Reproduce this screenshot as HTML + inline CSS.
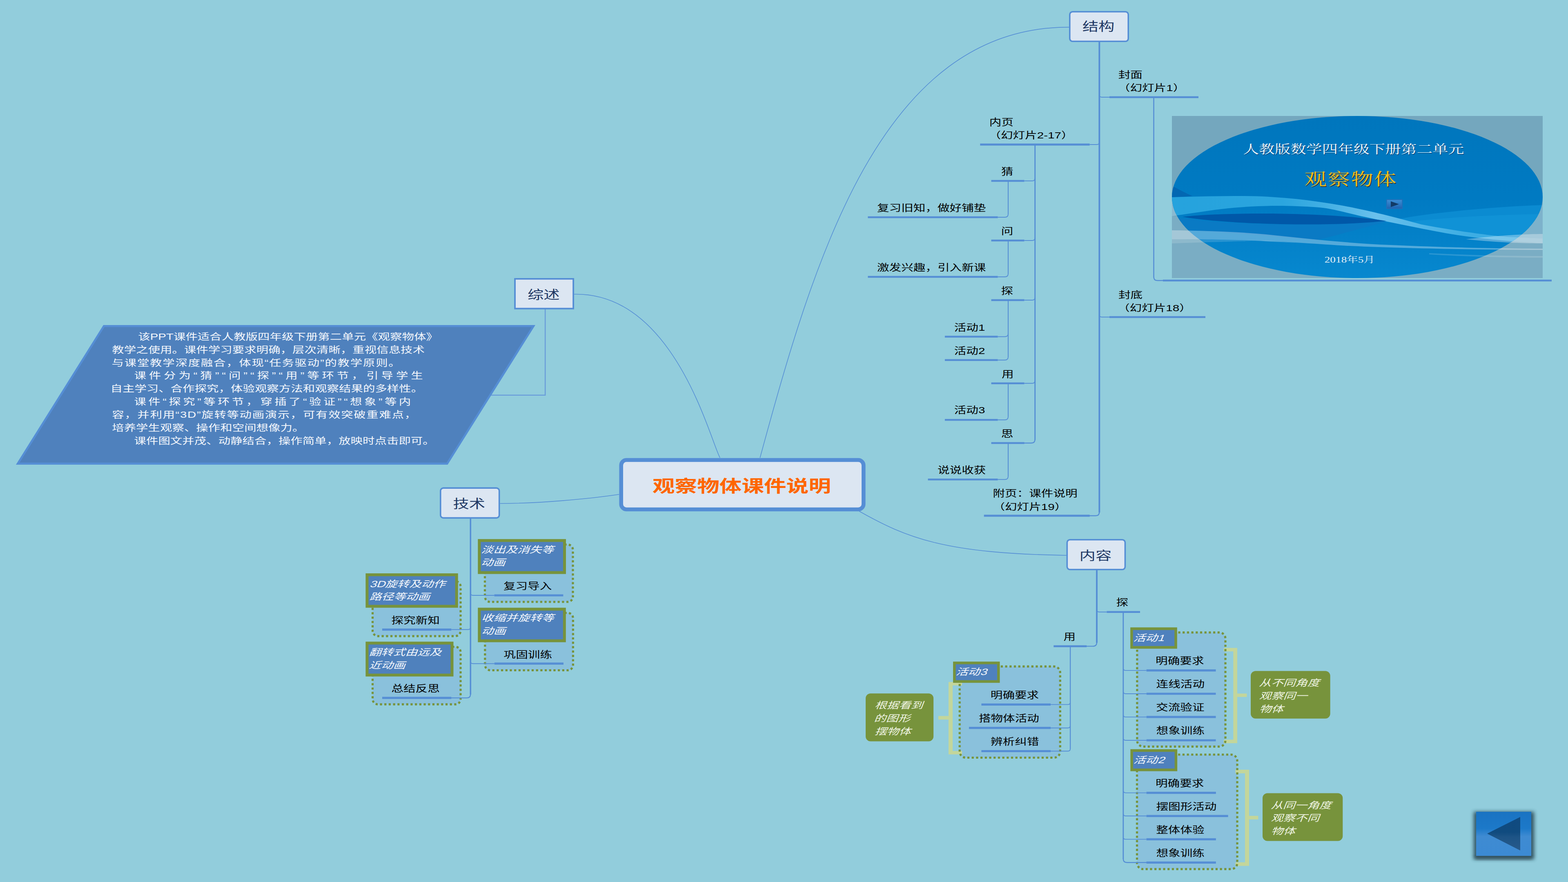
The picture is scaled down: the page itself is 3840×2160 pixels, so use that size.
<!DOCTYPE html>
<html lang="zh"><head><meta charset="utf-8"><title>观察物体课件说明</title>
<style>
html,body{margin:0;padding:0;background:#92CDDC}
body{width:3840px;height:2160px;overflow:hidden;position:relative;font-family:"Liberation Sans","Noto Sans CJK SC",sans-serif}
svg{position:absolute;left:0;top:0;display:block}
.t{position:absolute;margin:0;color:transparent;white-space:nowrap;line-height:1;transform:scaleX(1.3333);transform-origin:0 0;pointer-events:none}
svg text{font-family:"Liberation Sans","Noto Sans CJK SC",sans-serif}
svg text.s{font-family:"Liberation Serif","Noto Serif CJK SC",serif}
</style></head><body>
<svg width="3840" height="2160" viewBox="0 0 3840 2160">
<defs>
<linearGradient id="btn" x1="0" y1="0" x2="0" y2="1"><stop offset="0" stop-color="#1A73C2"/><stop offset="0.38" stop-color="#1C79C9"/><stop offset="0.56" stop-color="#3F8BD2"/><stop offset="1" stop-color="#3C8AD3"/></linearGradient>
<linearGradient id="tri" x1="0" y1="0" x2="0" y2="1"><stop offset="0" stop-color="#0F4A80"/><stop offset="0.45" stop-color="#104B7F"/><stop offset="0.6" stop-color="#1D5486"/><stop offset="1" stop-color="#27598B"/></linearGradient>
<filter id="sh" x="-30%" y="-30%" width="160%" height="170%"><feGaussianBlur stdDeviation="5"/></filter>
<linearGradient id="ell" x1="0" y1="0" x2="0" y2="1"><stop offset="0" stop-color="#0076BD"/><stop offset="0.5" stop-color="#007AC2"/><stop offset="1" stop-color="#0788CF"/></linearGradient>
<clipPath id="slc"><rect x="2870" y="284" width="908" height="397"/></clipPath>
<clipPath id="elc"><ellipse cx="3324" cy="482.5" rx="454" ry="198.5"/></clipPath>
<linearGradient id="bh" gradientUnits="userSpaceOnUse" x1="2870" y1="0" x2="3778" y2="0"><stop offset="0" stop-color="#5FBDEC" stop-opacity="0.05"/><stop offset="0.3" stop-color="#5FBDEC" stop-opacity="0.15"/><stop offset="0.55" stop-color="#7CC8F0" stop-opacity="0.8"/><stop offset="0.8" stop-color="#5FBDEC" stop-opacity="0.45"/><stop offset="1" stop-color="#5FBDEC" stop-opacity="0.3"/></linearGradient>
<linearGradient id="pb" x1="0" y1="0" x2="0" y2="1"><stop offset="0" stop-color="#3C8FD6"/><stop offset="1" stop-color="#1E63B0"/></linearGradient>
</defs>
<rect width="3840" height="2160" fill="#92CDDC"/>
<path d="M1861.3 1121 C1991.4 642.7 2156.6 64 2619 66.6" fill="none" stroke="#558ED5" stroke-width="1.6" />
<path d="M1763.2 1121 C1738.9 1077.5 1651.6 715.3 1406 720.5" fill="none" stroke="#558ED5" stroke-width="1.6" />
<path d="M2103.9 1251.7 C2221.9 1318.5 2316 1355.7 2612 1360" fill="none" stroke="#558ED5" stroke-width="1.6" />
<path d="M1516 1210.7 C1440 1222 1320 1233 1224.5 1233" fill="none" stroke="#558ED5" stroke-width="1.6" />
<path d="M1335.2 757 V967.8 H1200" fill="none" stroke="#6A9DDA" stroke-width="2.6" />
<path d="M254.5 798.5 H1306.5 L1095 1135.5 H43.5 Z" fill="#4F81BD" stroke="#558ED5" stroke-width="5" stroke-linejoin="miter"/>
<rect x="1187.5" y="1333.5" width="215.5" height="140.5" rx="13" fill="#8AC1DC"/>
<rect x="912.5" y="1423.5" width="215.5" height="134.3" rx="13" fill="#8AC1DC"/>
<rect x="1187.8" y="1501.0" width="215.6" height="140.5" rx="13" fill="#8AC1DC"/>
<rect x="912.5" y="1584.0" width="215.5" height="140.9" rx="13" fill="#8AC1DC"/>
<rect x="2784.8" y="1548.8" width="216.2" height="279.6" rx="15" fill="#8AC1DC"/>
<rect x="2784.5" y="1848.0" width="245.5" height="280.4" rx="15" fill="#8AC1DC"/>
<rect x="2350.2" y="1632.2" width="246.1" height="223.3" rx="15" fill="#8AC1DC"/>
<path d="M2996.8 1586.7 H3030.0 V1698.5 H3053.4 V1706.8 H3030.0 V1820.0 H2996.8 V1811.5 H3020.3 V1595.2 H2996.8 Z" fill="#C3D69B"/>
<rect x="3063.0" y="1643.3" width="194.7" height="116.5" rx="12" fill="#77933C"/>
<path d="M3025.5 1885.0 H3059.0 V1998.0 H3081.4 V2006.7 H3059.0 V2120.5 H3025.5 V2111.7 H3049.0 V1893.8 H3025.5 Z" fill="#C3D69B"/>
<rect x="3092.0" y="1942.4" width="196.3" height="117.2" rx="12" fill="#77933C"/>
<path d="M2356.0 1670.2 H2323.0 V1753.5 H2298.0 V1762.3 H2323.0 V1847.5 H2356.0 V1839.3 H2333.0 V1678.4 H2356.0 Z" fill="#C3D69B"/>
<rect x="2120.0" y="1698.2" width="166.1" height="117.3" rx="12" fill="#77933C"/>
<rect x="1187.5" y="1333.5" width="215.5" height="140.5" rx="13" fill="none" stroke="#77933C" stroke-width="5.2" stroke-dasharray="5.2 5.5"/>
<rect x="912.5" y="1423.5" width="215.5" height="134.3" rx="13" fill="none" stroke="#77933C" stroke-width="5.2" stroke-dasharray="5.2 5.5"/>
<rect x="1187.8" y="1501.0" width="215.6" height="140.5" rx="13" fill="none" stroke="#77933C" stroke-width="5.2" stroke-dasharray="5.2 5.5"/>
<rect x="912.5" y="1584.0" width="215.5" height="140.9" rx="13" fill="none" stroke="#77933C" stroke-width="5.2" stroke-dasharray="5.2 5.5"/>
<rect x="2784.8" y="1548.8" width="216.2" height="279.6" rx="15" fill="none" stroke="#77933C" stroke-width="5.2" stroke-dasharray="5.2 5.5"/>
<rect x="2784.5" y="1848.0" width="245.5" height="280.4" rx="15" fill="none" stroke="#77933C" stroke-width="5.2" stroke-dasharray="5.2 5.5"/>
<rect x="2350.2" y="1632.2" width="246.1" height="223.3" rx="15" fill="none" stroke="#77933C" stroke-width="5.2" stroke-dasharray="5.2 5.5"/>
<line x1="2692.3" y1="100.0" x2="2692.3" y2="1255.0" stroke="#558ED5" stroke-width="3.9"/>
<path d="M2692.3 1254 Q2692.3 1263 2683.3 1263 H2668" fill="none" stroke="#558ED5" stroke-width="2.4" />
<line x1="2717.0" y1="238.0" x2="2935.0" y2="238.0" stroke="#558ED5" stroke-width="4.6"/>
<path d="M2717.0 238.0 H2698.3 Q2692.3 238.0 2692.3 232.0" fill="none" stroke="#558ED5" stroke-width="1.9" />
<line x1="2717.0" y1="776.5" x2="2952.0" y2="776.5" stroke="#558ED5" stroke-width="4.6"/>
<path d="M2717.0 776.5 H2698.3 Q2692.3 776.5 2692.3 770.5" fill="none" stroke="#558ED5" stroke-width="1.9" />
<line x1="2825.5" y1="240.0" x2="2825.5" y2="679.0" stroke="#558ED5" stroke-width="2.6"/>
<path d="M2825.5 678 Q2825.5 687 2834 687 H2848" fill="none" stroke="#558ED5" stroke-width="2.4" />
<line x1="2848.0" y1="687.0" x2="3800.0" y2="687.0" stroke="#558ED5" stroke-width="4.6"/>
<line x1="2400.3" y1="354.0" x2="2668.6" y2="354.0" stroke="#558ED5" stroke-width="4.8"/>
<path d="M2668.6 354.0 H2686.3 Q2692.3 354.0 2692.3 348.0" fill="none" stroke="#558ED5" stroke-width="1.9" />
<line x1="2409.7" y1="1263.0" x2="2668.6" y2="1263.0" stroke="#558ED5" stroke-width="4.8"/>
<line x1="2534.7" y1="354.0" x2="2534.7" y2="1077.0" stroke="#558ED5" stroke-width="2.9"/>
<path d="M2534.7 1076 Q2534.7 1085 2525.7 1085 H2508" fill="none" stroke="#558ED5" stroke-width="2.4" />
<line x1="2427.6" y1="443.0" x2="2508.5" y2="443.0" stroke="#558ED5" stroke-width="4.6"/>
<path d="M2508.5 443.0 H2527.7 Q2534.7 443.0 2534.7 436.0" fill="none" stroke="#558ED5" stroke-width="1.9" />
<line x1="2469.0" y1="443.0" x2="2469.0" y2="524.5" stroke="#558ED5" stroke-width="2.1"/>
<path d="M2443.6 532.0 H2461.0 Q2469.0 532.0 2469.0 524.0" fill="none" stroke="#558ED5" stroke-width="1.9" />
<line x1="2427.6" y1="589.0" x2="2508.5" y2="589.0" stroke="#558ED5" stroke-width="4.6"/>
<path d="M2508.5 589.0 H2527.7 Q2534.7 589.0 2534.7 582.0" fill="none" stroke="#558ED5" stroke-width="1.9" />
<line x1="2469.0" y1="589.0" x2="2469.0" y2="670.5" stroke="#558ED5" stroke-width="2.1"/>
<path d="M2443.6 678.0 H2461.0 Q2469.0 678.0 2469.0 670.0" fill="none" stroke="#558ED5" stroke-width="1.9" />
<line x1="2427.6" y1="735.0" x2="2508.5" y2="735.0" stroke="#558ED5" stroke-width="4.6"/>
<path d="M2508.5 735.0 H2527.7 Q2534.7 735.0 2534.7 728.0" fill="none" stroke="#558ED5" stroke-width="1.9" />
<line x1="2469.0" y1="735.0" x2="2469.0" y2="874.2" stroke="#558ED5" stroke-width="2.1"/>
<path d="M2443.6 824.5 H2461.0 Q2469.0 824.5 2469.0 816.5" fill="none" stroke="#558ED5" stroke-width="1.9" />
<path d="M2443.6 881.7 H2461.0 Q2469.0 881.7 2469.0 873.7" fill="none" stroke="#558ED5" stroke-width="1.9" />
<line x1="2427.6" y1="938.8" x2="2508.5" y2="938.8" stroke="#558ED5" stroke-width="4.6"/>
<path d="M2508.5 938.8 H2527.7 Q2534.7 938.8 2534.7 931.8" fill="none" stroke="#558ED5" stroke-width="1.9" />
<line x1="2469.0" y1="938.8" x2="2469.0" y2="1020.7" stroke="#558ED5" stroke-width="2.1"/>
<path d="M2443.6 1028.2 H2461.0 Q2469.0 1028.2 2469.0 1020.2" fill="none" stroke="#558ED5" stroke-width="1.9" />
<line x1="2427.6" y1="1085.0" x2="2508.5" y2="1085.0" stroke="#558ED5" stroke-width="4.6"/>
<line x1="2469.0" y1="1085.0" x2="2469.0" y2="1166.7" stroke="#558ED5" stroke-width="2.1"/>
<path d="M2443.6 1174.2 H2461.0 Q2469.0 1174.2 2469.0 1166.2" fill="none" stroke="#558ED5" stroke-width="1.9" />
<line x1="2125.4" y1="532.0" x2="2443.6" y2="532.0" stroke="#558ED5" stroke-width="4.6"/>
<line x1="2125.4" y1="678.0" x2="2443.6" y2="678.0" stroke="#558ED5" stroke-width="4.6"/>
<line x1="2313.9" y1="824.5" x2="2443.6" y2="824.5" stroke="#558ED5" stroke-width="4.6"/>
<line x1="2313.9" y1="881.7" x2="2443.6" y2="881.7" stroke="#558ED5" stroke-width="4.6"/>
<line x1="2313.9" y1="1028.2" x2="2443.6" y2="1028.2" stroke="#558ED5" stroke-width="4.6"/>
<line x1="2272.5" y1="1174.2" x2="2443.6" y2="1174.2" stroke="#558ED5" stroke-width="4.6"/>
<line x1="1152.3" y1="1268.0" x2="1152.3" y2="1701.0" stroke="#558ED5" stroke-width="3.5"/>
<path d="M1152.3 1700 Q1152.3 1709.1 1143.3 1709.1 H1105" fill="none" stroke="#558ED5" stroke-width="2.4" />
<line x1="1210.6" y1="1458.0" x2="1379.4" y2="1458.0" stroke="#558ED5" stroke-width="5.2"/>
<path d="M1210.6 1458.0 H1158.3 Q1152.3 1458.0 1152.3 1452.0" fill="none" stroke="#558ED5" stroke-width="1.9" />
<line x1="1210.9" y1="1625.2" x2="1380.0" y2="1625.2" stroke="#558ED5" stroke-width="5.2"/>
<path d="M1210.9 1625.2 H1158.3 Q1152.3 1625.2 1152.3 1619.2" fill="none" stroke="#558ED5" stroke-width="1.9" />
<line x1="936.0" y1="1541.8" x2="1105.2" y2="1541.8" stroke="#558ED5" stroke-width="5.2"/>
<path d="M1105.2 1541.8 H1146.3 Q1152.3 1541.8 1152.3 1535.8" fill="none" stroke="#558ED5" stroke-width="1.9" />
<line x1="936.0" y1="1709.1" x2="1105.2" y2="1709.1" stroke="#558ED5" stroke-width="5.2"/>
<line x1="2686.0" y1="1394.0" x2="2686.0" y2="1574.0" stroke="#558ED5" stroke-width="3.9"/>
<path d="M2686.0 1573 Q2686.0 1582.6 2677.0 1582.6 H2661" fill="none" stroke="#558ED5" stroke-width="2.4" />
<line x1="2710.4" y1="1498.8" x2="2792.0" y2="1498.8" stroke="#558ED5" stroke-width="4.6"/>
<path d="M2710.4 1498.8 H2692.0 Q2686.0 1498.8 2686.0 1492.8" fill="none" stroke="#558ED5" stroke-width="1.9" />
<line x1="2580.3" y1="1582.6" x2="2661.1" y2="1582.6" stroke="#558ED5" stroke-width="4.6"/>
<line x1="2750.8" y1="1499.0" x2="2750.8" y2="2104.0" stroke="#558ED5" stroke-width="2.8"/>
<path d="M2750.8 2103 Q2750.8 2112.3 2759.8 2112.3 H2808" fill="none" stroke="#558ED5" stroke-width="2.4" />
<line x1="2807.7" y1="1641.9" x2="2977.5" y2="1641.9" stroke="#558ED5" stroke-width="5.2"/>
<path d="M2807.7 1641.9 H2756.8 Q2750.8 1641.9 2750.8 1635.9" fill="none" stroke="#558ED5" stroke-width="1.9" />
<line x1="2807.7" y1="1699.0" x2="2977.5" y2="1699.0" stroke="#558ED5" stroke-width="5.2"/>
<path d="M2807.7 1699.0 H2756.8 Q2750.8 1699.0 2750.8 1693.0" fill="none" stroke="#558ED5" stroke-width="1.9" />
<line x1="2807.7" y1="1755.9" x2="2977.5" y2="1755.9" stroke="#558ED5" stroke-width="5.2"/>
<path d="M2807.7 1755.9 H2756.8 Q2750.8 1755.9 2750.8 1749.9" fill="none" stroke="#558ED5" stroke-width="1.9" />
<line x1="2807.7" y1="1813.0" x2="2977.5" y2="1813.0" stroke="#558ED5" stroke-width="5.2"/>
<path d="M2807.7 1813.0 H2756.8 Q2750.8 1813.0 2750.8 1807.0" fill="none" stroke="#558ED5" stroke-width="1.9" />
<line x1="2807.6" y1="1941.6" x2="2977.8" y2="1941.6" stroke="#558ED5" stroke-width="5.2"/>
<path d="M2807.6 1941.6 H2756.8 Q2750.8 1941.6 2750.8 1935.6" fill="none" stroke="#558ED5" stroke-width="1.9" />
<line x1="2807.6" y1="1998.3" x2="3007.6" y2="1998.3" stroke="#558ED5" stroke-width="5.2"/>
<path d="M2807.6 1998.3 H2756.8 Q2750.8 1998.3 2750.8 1992.3" fill="none" stroke="#558ED5" stroke-width="1.9" />
<line x1="2807.6" y1="2055.4" x2="2977.8" y2="2055.4" stroke="#558ED5" stroke-width="5.2"/>
<path d="M2807.6 2055.4 H2756.8 Q2750.8 2055.4 2750.8 2049.4" fill="none" stroke="#558ED5" stroke-width="1.9" />
<line x1="2807.6" y1="2112.3" x2="2977.8" y2="2112.3" stroke="#558ED5" stroke-width="5.2"/>
<line x1="2621.1" y1="1583.0" x2="2621.1" y2="1834.0" stroke="#558ED5" stroke-width="2.3"/>
<line x1="2403.4" y1="1725.4" x2="2573.0" y2="1725.4" stroke="#558ED5" stroke-width="5.2"/>
<path d="M2573.0 1725.4 H2615.1 Q2621.1 1725.4 2621.1 1719.4" fill="none" stroke="#558ED5" stroke-width="1.9" />
<line x1="2373.0" y1="1782.7" x2="2573.0" y2="1782.7" stroke="#558ED5" stroke-width="5.2"/>
<path d="M2573.0 1782.7 H2615.1 Q2621.1 1782.7 2621.1 1776.7" fill="none" stroke="#558ED5" stroke-width="1.9" />
<line x1="2403.4" y1="1839.5" x2="2573.0" y2="1839.5" stroke="#558ED5" stroke-width="5.2"/>
<path d="M2573.0 1839.5 H2615.1 Q2621.1 1839.5 2621.1 1833.5" fill="none" stroke="#558ED5" stroke-width="1.9" />
<rect x="1521.2" y="1126.5" width="593.6" height="121" rx="13" fill="#DCE6F2" stroke="#558ED5" stroke-width="9.6"/>
<rect x="2619.8" y="28.8" width="143.4" height="72.4" rx="7.0" fill="#DCE6F2" stroke="#558ED5" stroke-width="3.6"/>
<rect x="1261.1" y="682.9" width="143.0" height="72.8" rx="0.0" fill="#DCE6F2" stroke="#558ED5" stroke-width="3.8"/>
<rect x="1078.8" y="1195.1" width="143.9" height="73.3" rx="7.0" fill="#DCE6F2" stroke="#558ED5" stroke-width="3.6"/>
<rect x="2613.3" y="1321.8" width="142.1" height="72.9" rx="7.0" fill="#DCE6F2" stroke="#558ED5" stroke-width="3.6"/>
<rect x="1173.8" y="1323.7" width="208.7" height="78.5" fill="#4F81BD" stroke="#77933C" stroke-width="7.0"/>
<rect x="898.9" y="1407.6" width="219.3" height="77.2" fill="#4F81BD" stroke="#77933C" stroke-width="7.0"/>
<rect x="1173.8" y="1491.8" width="208.5" height="77.5" fill="#4F81BD" stroke="#77933C" stroke-width="7.0"/>
<rect x="898.9" y="1574.9" width="208.1" height="78.3" fill="#4F81BD" stroke="#77933C" stroke-width="7.0"/>
<rect x="2771.4" y="1539.7" width="108.1" height="45.7" fill="#4F81BD" stroke="#77933C" stroke-width="6.5"/>
<rect x="2771.6" y="1838.0" width="108.3" height="47.4" fill="#4F81BD" stroke="#77933C" stroke-width="6.5"/>
<rect x="2337.3" y="1623.5" width="108.0" height="45.5" fill="#4F81BD" stroke="#77933C" stroke-width="6.5"/>
<g clip-path="url(#slc)"><rect x="2870" y="284" width="908" height="397" fill="#74A7BE"/><rect x="2870" y="530" width="908" height="151" fill="#7AADC4"/><path d="M2870 483 C2930 481 2990 480 3042 480 C3120 480 3200 489 3261 499 C3325 509 3415 531 3480 549.5 C3550 563 3640 576 3699 580.5 L3780 584 V596 L3736 593 C3680 590 3600 581 3553 573 C3490 562 3390 541 3334 529.4 C3295 521 3262 510 3225 507.5 C3190 505 3150 503.5 3115 504 C3060 505 3005 509.5 2969.5 514.8 C2930 520.5 2900 525 2870 529.4 Z" fill="#8ABAD0"/><path d="M3560 520 C3640 510 3710 505 3778 502 V584 C3700 580 3640 575 3590 567 Z" fill="#7DB2CB"/><g clip-path="url(#elc)"><rect x="2870" y="284" width="908" height="397" fill="url(#ell)"/><path d="M2870 455 C2890 465 2905 474 2920 480 L2870 484 Z" fill="#0367B2"/><path d="M3389 544 C3440 532 3500 524 3553 518.5 C3620 511 3700 505 3780 502 V586 C3700 581 3640 575 3590 567.7 C3520 558 3440 545 3389 544 Z" fill="#0B8BD1"/><path d="M3430 546 C3500 536 3600 528 3780 524 V586 C3700 581 3640 575 3590 567.7 C3520 558 3470 548 3430 546 Z" fill="#1193D7" opacity="0.8"/><path d="M2870 531 C3000 552 3250 556 3407 540 C3330 560 3260 580 3225 588 C3100 576 2980 566 2870 564 Z" fill="#0A7AC4"/><path d="M2870 483 C2930 481 2990 480 3042 480 C3120 480 3200 489 3261 499 C3325 509 3415 531 3480 549.5 C3550 563 3640 576 3699 580.5 L3780 584 V596 L3736 593 C3680 590 3600 581 3553 573 C3490 562 3390 541 3334 529.4 C3295 521 3262 510 3225 507.5 C3190 505 3150 503.5 3115 504 C3060 505 3005 509.5 2969.5 514.8 C2930 520.5 2900 525 2870 529.4 Z" fill="#22A1DC"/><path d="M2870 483 C2930 481 2990 480 3042 480 C3120 480 3200 489 3261 499 C3325 509 3415 531 3480 549.5 C3550 563 3640 576 3699 580.5 L3780 584 V596 L3736 593 C3680 590 3600 581 3553 573 C3490 562 3390 541 3334 529.4 C3295 521 3262 510 3225 507.5 C3190 505 3150 503.5 3115 504 C3060 505 3005 509.5 2969.5 514.8 C2930 520.5 2900 525 2870 529.4 Z" fill="url(#bh)"/><path d="M2896 531 C2960 523 3100 521 3188 524.7 C3270 527 3340 533 3395 541 C3340 547 3260 550 3188 549.5 C3100 549 2980 545 2896 531 Z" fill="#0058A8"/></g><path d="M2870 564 C2950 565 3040 568 3100 574 C3200 584 3300 596 3407 600 C3500 604 3600 608 3778 609 V612 C3600 612 3400 607 3300 602 C3200 596 3100 586 2870 586 Z" fill="#FFFFFF" opacity="0.32"/><path d="M2870 586 C3000 586 3100 590 3200 597 L3100 589 C3000 592 2930 594 2870 596 Z" fill="#FFFFFF" opacity="0.15"/><path d="M3590 586 C3670 576 3740 573 3778 573 V596 C3740 596 3680 595 3590 586 Z" fill="#FFFFFF" opacity="0.32"/><path d="M3500 620 C3600 625 3700 627 3778 627 V631 C3700 631 3600 629 3500 623 Z" fill="#FFFFFF" opacity="0.15"/></g>
<rect x="3396" y="489" width="38" height="22" fill="url(#pb)" stroke="#2A6CB5" stroke-width="1.5"/><path d="M3406 493 L3426 500 L3406 507 Z" fill="#123A66"/>
<rect x="3609" y="1988" width="148" height="116" fill="#22404E" opacity="0.85" filter="url(#sh)"/>
<rect x="3612" y="2096" width="140" height="8" fill="#2A4450" opacity="0.6" filter="url(#sh)"/>
<rect x="3615" y="1988" width="135" height="108" fill="url(#btn)"/>
<path d="M3642 2041.4 L3723 2000.7 V2082.7 Z" fill="url(#tri)"/>
<text transform="translate(1597.9,1204.8) scale(1.3333,1)" font-size="41" font-weight="bold" fill="#FF6600">观察物体课件说明</text>
<text transform="translate(2650.8,75.4) scale(1.3333,1)" font-size="29.5" fill="#1F3864">结构</text>
<text transform="translate(1291.9,731.6) scale(1.3333,1)" font-size="29.5" fill="#1F3864">综述</text>
<text transform="translate(1109.5,1243.9) scale(1.3333,1)" font-size="29.5" fill="#1F3864">技术</text>
<text transform="translate(2643.6,1371.4) scale(1.3333,1)" font-size="29.5" fill="#1F3864">内容</text>
<text transform="translate(338.2,831.8) scale(1.3333,1)" font-size="22.1" fill="#F4F7FC">该PPT课件适合人教版四年级下册第二单元《观察物体》</text>
<text transform="translate(274.3,863.6) scale(1.3333,1)" font-size="22.1" fill="#F4F7FC">教学之使用。课件学习要求明确，层次清晰，重视信息技术</text>
<text transform="translate(273.6,895.5) scale(1.3333,1)" font-size="22.1" fill="#F4F7FC" textLength="530.4" lengthAdjust="spacing">与课堂教学深度融合，体现“任务驱动”的教学原则。</text>
<text transform="translate(328.5,927.3) scale(1.3333,1)" font-size="22.1" fill="#F4F7FC" textLength="530.4" lengthAdjust="spacing">课件分为“猜”“问”“探”“用”等环节，引导学生</text>
<text transform="translate(270.5,959.2) scale(1.3333,1)" font-size="22.1" fill="#F4F7FC">自主学习、合作探究，体验观察方法和观察结果的多样性。</text>
<text transform="translate(328.5,991.0) scale(1.3333,1)" font-size="22.1" fill="#F4F7FC" textLength="508.3" lengthAdjust="spacing">课件“探究”等环节，穿插了“验证”“想象”等内</text>
<text transform="translate(274.2,1022.9) scale(1.3333,1)" font-size="22.1" fill="#F4F7FC" textLength="559.4" lengthAdjust="spacing">容，并利用“3D”旋转等动画演示，可有效突破重难点，</text>
<text transform="translate(274.2,1054.7) scale(1.3333,1)" font-size="22.1" fill="#F4F7FC">培养学生观察、操作和空间想像力。</text>
<text transform="translate(328.5,1086.6) scale(1.3333,1)" font-size="22.1" fill="#F4F7FC">课件图文并茂、动静结合，操作简单，放映时点击即可。</text>
<text transform="translate(2738.7,190.5) scale(1.3333,1)" font-size="22.2" fill="#000">封面</text>
<text transform="translate(2737.8,223.0) scale(1.3333,1)" font-size="22.2" fill="#000">（幻灯片1）</text>
<text transform="translate(2422.8,306.5) scale(1.3333,1)" font-size="22.2" fill="#000">内页</text>
<text transform="translate(2421.4,339.3) scale(1.3333,1)" font-size="22.2" fill="#000">（幻灯片2-17）</text>
<text transform="translate(2451.9,427.5) scale(1.3333,1)" font-size="22.2" fill="#000">猜</text>
<text transform="translate(2148.0,517.0) scale(1.3333,1)" font-size="22.2" fill="#000">复习旧知，做好铺垫</text>
<text transform="translate(2451.7,574.0) scale(1.3333,1)" font-size="22.2" fill="#000">问</text>
<text transform="translate(2148.0,663.4) scale(1.3333,1)" font-size="22.2" fill="#000">激发兴趣，引入新课</text>
<text transform="translate(2451.6,719.8) scale(1.3333,1)" font-size="22.2" fill="#000">探</text>
<text transform="translate(2336.7,809.6) scale(1.3333,1)" font-size="22.2" fill="#000">活动1</text>
<text transform="translate(2336.7,866.6) scale(1.3333,1)" font-size="22.2" fill="#000">活动2</text>
<text transform="translate(2452.9,923.8) scale(1.3333,1)" font-size="22.2" fill="#000">用</text>
<text transform="translate(2336.7,1012.3) scale(1.3333,1)" font-size="22.2" fill="#000">活动3</text>
<text transform="translate(2451.7,1069.7) scale(1.3333,1)" font-size="22.2" fill="#000">思</text>
<text transform="translate(2296.0,1159.1) scale(1.3333,1)" font-size="22.2" fill="#000">说说收获</text>
<text transform="translate(2431.5,1216.0) scale(1.3333,1)" font-size="22.2" fill="#000">附页：课件说明</text>
<text transform="translate(2431.4,1248.5) scale(1.3333,1)" font-size="22.2" fill="#000">（幻灯片19）</text>
<text transform="translate(2738.9,729.8) scale(1.3333,1)" font-size="22.2" fill="#000">封底</text>
<text transform="translate(2737.0,762.0) scale(1.3333,1)" font-size="22.2" fill="#000">（幻灯片18）</text>
<text class="s" transform="translate(3045.9,377.7) scale(1.3333,1)" font-size="29" fill="#0A4F86">人教版数学四年级下册第二单元</text>
<text class="s" transform="translate(3044.4,376.2) scale(1.3333,1)" font-size="29" fill="#F4F8FB">人教版数学四年级下册第二单元</text>
<text class="s" transform="translate(3196.3,454.7) scale(1.3333,1)" font-size="41" letter-spacing="1.64" fill="#2A3A3A">观察物体</text>
<text class="s" transform="translate(3194.5,452.9) scale(1.3333,1)" font-size="41" letter-spacing="1.64" fill="#F2BE1E">观察物体</text>
<text class="s" transform="translate(3243.7,642.7) scale(1.3333,1)" font-size="20.5" fill="#E8F1F7">2018年5月</text>
<text transform="translate(1232.9,1443.0) scale(1.3333,1)" font-size="22.2" fill="#000">复习导入</text>
<text transform="translate(958.5,1526.8) scale(1.3333,1)" font-size="22.2" fill="#000">探究新知</text>
<text transform="translate(1233.6,1610.7) scale(1.3333,1)" font-size="22.2" fill="#000">巩固训练</text>
<text transform="translate(958.4,1693.5) scale(1.3333,1)" font-size="22.2" fill="#000">总结反思</text>
<text transform="matrix(1.3333,0,-0.4,1,1178.1,1353.8)" font-size="22.2" fill="#F4F7FC">淡出及消失等</text>
<text transform="matrix(1.3333,0,-0.4,1,1177.6,1384.8)" font-size="22.2" fill="#F4F7FC">动画</text>
<text transform="matrix(1.3333,0,-0.4,1,904.7,1438.0)" font-size="22.2" fill="#F4F7FC">3D旋转及动作</text>
<text transform="matrix(1.3333,0,-0.4,1,904.5,1469.4)" font-size="22.2" fill="#F4F7FC">路径等动画</text>
<text transform="matrix(1.3333,0,-0.4,1,1178.6,1521.0)" font-size="22.2" fill="#F4F7FC">收缩并旋转等</text>
<text transform="matrix(1.3333,0,-0.4,1,1178.8,1552.8)" font-size="22.2" fill="#F4F7FC">动画</text>
<text transform="matrix(1.3333,0,-0.4,1,903.4,1605.3)" font-size="22.2" fill="#F4F7FC">翻转式由远及</text>
<text transform="matrix(1.3333,0,-0.4,1,903.3,1637.0)" font-size="22.2" fill="#F4F7FC">近动画</text>
<text transform="translate(2733.4,1483.3) scale(1.3333,1)" font-size="22.2" fill="#000">探</text>
<text transform="translate(2604.4,1567.3) scale(1.3333,1)" font-size="22.2" fill="#000">用</text>
<text transform="matrix(1.3333,0,-0.4,1,2775.2,1569.7)" font-size="22.2" fill="#F4F7FC">活动1</text>
<text transform="matrix(1.3333,0,-0.4,1,2775.5,1868.6)" font-size="22.2" fill="#F4F7FC">活动2</text>
<text transform="matrix(1.3333,0,-0.4,1,2340.5,1652.8)" font-size="22.2" fill="#F4F7FC">活动3</text>
<text transform="translate(2830.1,1625.8) scale(1.3333,1)" font-size="22.2" fill="#000">明确要求</text>
<text transform="translate(2831.6,1683.3) scale(1.3333,1)" font-size="22.2" fill="#000">连线活动</text>
<text transform="translate(2831.1,1740.3) scale(1.3333,1)" font-size="22.2" fill="#000">交流验证</text>
<text transform="translate(2831.6,1797.3) scale(1.3333,1)" font-size="22.2" fill="#000">想象训练</text>
<text transform="translate(2830.0,1925.8) scale(1.3333,1)" font-size="22.2" fill="#000">明确要求</text>
<text transform="translate(2831.5,1982.8) scale(1.3333,1)" font-size="22.2" fill="#000">摆图形活动</text>
<text transform="translate(2831.2,2039.8) scale(1.3333,1)" font-size="22.2" fill="#000">整体体验</text>
<text transform="translate(2831.5,2096.8) scale(1.3333,1)" font-size="22.2" fill="#000">想象训练</text>
<text transform="translate(2425.8,1710.2) scale(1.3333,1)" font-size="22.2" fill="#000">明确要求</text>
<text transform="translate(2396.9,1767.0) scale(1.3333,1)" font-size="22.2" fill="#000">搭物体活动</text>
<text transform="translate(2426.1,1824.0) scale(1.3333,1)" font-size="22.2" fill="#000">辨析纠错</text>
<text transform="matrix(1.3333,0,-0.4,1,3083.1,1680.0)" font-size="22.2" fill="#EEF3E2">从不同角度</text>
<text transform="matrix(1.3333,0,-0.4,1,3083.3,1712.3)" font-size="22.2" fill="#EEF3E2">观察同一</text>
<text transform="matrix(1.3333,0,-0.4,1,3083.4,1744.0)" font-size="22.2" fill="#EEF3E2">物体</text>
<text transform="matrix(1.3333,0,-0.4,1,3112.0,1979.8)" font-size="22.2" fill="#EEF3E2">从同一角度</text>
<text transform="matrix(1.3333,0,-0.4,1,3112.2,2011.3)" font-size="22.2" fill="#EEF3E2">观察不同</text>
<text transform="matrix(1.3333,0,-0.4,1,3112.3,2042.7)" font-size="22.2" fill="#EEF3E2">物体</text>
<text transform="matrix(1.3333,0,-0.4,1,2141.5,1735.0)" font-size="22.2" fill="#EEF3E2">根据看到</text>
<text transform="matrix(1.3333,0,-0.4,1,2140.0,1767.0)" font-size="22.2" fill="#EEF3E2">的图形</text>
<text transform="matrix(1.3333,0,-0.4,1,2141.7,1798.5)" font-size="22.2" fill="#EEF3E2">摆物体</text>
</svg>
<div class="t" style="left:1598px;top:1169px;font-size:41.0px;">观察物体课件说明</div>
<div class="t" style="left:2651px;top:49px;font-size:29.5px;">结构</div>
<div class="t" style="left:1292px;top:706px;font-size:29.5px;">综述</div>
<div class="t" style="left:1110px;top:1218px;font-size:29.5px;">技术</div>
<div class="t" style="left:2644px;top:1345px;font-size:29.5px;">内容</div>
<div class="t" style="left:338px;top:812px;font-size:22.1px;">该PPT课件适合人教版四年级下册第二单元《观察物体》</div>
<div class="t" style="left:274px;top:844px;font-size:22.1px;">教学之使用。课件学习要求明确，层次清晰，重视信息技术</div>
<div class="t" style="left:274px;top:876px;font-size:22.1px;">与课堂教学深度融合，体现“任务驱动”的教学原则。</div>
<div class="t" style="left:329px;top:908px;font-size:22.1px;">课件分为“猜”“问”“探”“用”等环节，引导学生</div>
<div class="t" style="left:270px;top:940px;font-size:22.1px;">自主学习、合作探究，体验观察方法和观察结果的多样性。</div>
<div class="t" style="left:329px;top:972px;font-size:22.1px;">课件“探究”等环节，穿插了“验证”“想象”等内</div>
<div class="t" style="left:274px;top:1003px;font-size:22.1px;">容，并利用“3D”旋转等动画演示，可有效突破重难点，</div>
<div class="t" style="left:274px;top:1035px;font-size:22.1px;">培养学生观察、操作和空间想像力。</div>
<div class="t" style="left:329px;top:1067px;font-size:22.1px;">课件图文并茂、动静结合，操作简单，放映时点击即可。</div>
<div class="t" style="left:2739px;top:171px;font-size:22.2px;">封面</div>
<div class="t" style="left:2738px;top:204px;font-size:22.2px;">（幻灯片1）</div>
<div class="t" style="left:2423px;top:287px;font-size:22.2px;">内页</div>
<div class="t" style="left:2421px;top:320px;font-size:22.2px;">（幻灯片2-17）</div>
<div class="t" style="left:2452px;top:408px;font-size:22.2px;">猜</div>
<div class="t" style="left:2148px;top:498px;font-size:22.2px;">复习旧知，做好铺垫</div>
<div class="t" style="left:2452px;top:555px;font-size:22.2px;">问</div>
<div class="t" style="left:2148px;top:644px;font-size:22.2px;">激发兴趣，引入新课</div>
<div class="t" style="left:2452px;top:700px;font-size:22.2px;">探</div>
<div class="t" style="left:2337px;top:790px;font-size:22.2px;">活动1</div>
<div class="t" style="left:2337px;top:847px;font-size:22.2px;">活动2</div>
<div class="t" style="left:2453px;top:904px;font-size:22.2px;">用</div>
<div class="t" style="left:2337px;top:993px;font-size:22.2px;">活动3</div>
<div class="t" style="left:2452px;top:1050px;font-size:22.2px;">思</div>
<div class="t" style="left:2296px;top:1140px;font-size:22.2px;">说说收获</div>
<div class="t" style="left:2432px;top:1197px;font-size:22.2px;">附页：课件说明</div>
<div class="t" style="left:2431px;top:1229px;font-size:22.2px;">（幻灯片19）</div>
<div class="t" style="left:2739px;top:710px;font-size:22.2px;">封底</div>
<div class="t" style="left:2737px;top:743px;font-size:22.2px;">（幻灯片18）</div>
<div class="t" style="left:3044px;top:351px;font-size:29.0px;">人教版数学四年级下册第二单元</div>
<div class="t" style="left:3194px;top:417px;font-size:41.0px;">观察物体</div>
<div class="t" style="left:3244px;top:625px;font-size:20.5px;">2018年5月</div>
<div class="t" style="left:1233px;top:1424px;font-size:22.2px;">复习导入</div>
<div class="t" style="left:959px;top:1507px;font-size:22.2px;">探究新知</div>
<div class="t" style="left:1234px;top:1591px;font-size:22.2px;">巩固训练</div>
<div class="t" style="left:958px;top:1674px;font-size:22.2px;">总结反思</div>
<div class="t" style="left:1178px;top:1334px;font-size:22.2px;font-style:italic;">淡出及消失等</div>
<div class="t" style="left:1178px;top:1365px;font-size:22.2px;font-style:italic;">动画</div>
<div class="t" style="left:905px;top:1419px;font-size:22.2px;font-style:italic;">3D旋转及动作</div>
<div class="t" style="left:904px;top:1450px;font-size:22.2px;font-style:italic;">路径等动画</div>
<div class="t" style="left:1179px;top:1502px;font-size:22.2px;font-style:italic;">收缩并旋转等</div>
<div class="t" style="left:1179px;top:1533px;font-size:22.2px;font-style:italic;">动画</div>
<div class="t" style="left:903px;top:1586px;font-size:22.2px;font-style:italic;">翻转式由远及</div>
<div class="t" style="left:903px;top:1618px;font-size:22.2px;font-style:italic;">近动画</div>
<div class="t" style="left:2733px;top:1464px;font-size:22.2px;">探</div>
<div class="t" style="left:2604px;top:1548px;font-size:22.2px;">用</div>
<div class="t" style="left:2775px;top:1550px;font-size:22.2px;font-style:italic;">活动1</div>
<div class="t" style="left:2776px;top:1849px;font-size:22.2px;font-style:italic;">活动2</div>
<div class="t" style="left:2341px;top:1633px;font-size:22.2px;font-style:italic;">活动3</div>
<div class="t" style="left:2830px;top:1606px;font-size:22.2px;">明确要求</div>
<div class="t" style="left:2832px;top:1664px;font-size:22.2px;">连线活动</div>
<div class="t" style="left:2831px;top:1721px;font-size:22.2px;">交流验证</div>
<div class="t" style="left:2832px;top:1778px;font-size:22.2px;">想象训练</div>
<div class="t" style="left:2830px;top:1906px;font-size:22.2px;">明确要求</div>
<div class="t" style="left:2832px;top:1963px;font-size:22.2px;">摆图形活动</div>
<div class="t" style="left:2831px;top:2020px;font-size:22.2px;">整体体验</div>
<div class="t" style="left:2831px;top:2077px;font-size:22.2px;">想象训练</div>
<div class="t" style="left:2426px;top:1691px;font-size:22.2px;">明确要求</div>
<div class="t" style="left:2397px;top:1748px;font-size:22.2px;">搭物体活动</div>
<div class="t" style="left:2426px;top:1805px;font-size:22.2px;">辨析纠错</div>
<div class="t" style="left:3083px;top:1661px;font-size:22.2px;font-style:italic;">从不同角度</div>
<div class="t" style="left:3083px;top:1693px;font-size:22.2px;font-style:italic;">观察同一</div>
<div class="t" style="left:3083px;top:1725px;font-size:22.2px;font-style:italic;">物体</div>
<div class="t" style="left:3112px;top:1960px;font-size:22.2px;font-style:italic;">从同一角度</div>
<div class="t" style="left:3112px;top:1992px;font-size:22.2px;font-style:italic;">观察不同</div>
<div class="t" style="left:3112px;top:2023px;font-size:22.2px;font-style:italic;">物体</div>
<div class="t" style="left:2142px;top:1716px;font-size:22.2px;font-style:italic;">根据看到</div>
<div class="t" style="left:2140px;top:1748px;font-size:22.2px;font-style:italic;">的图形</div>
<div class="t" style="left:2142px;top:1779px;font-size:22.2px;font-style:italic;">摆物体</div>
</body></html>
